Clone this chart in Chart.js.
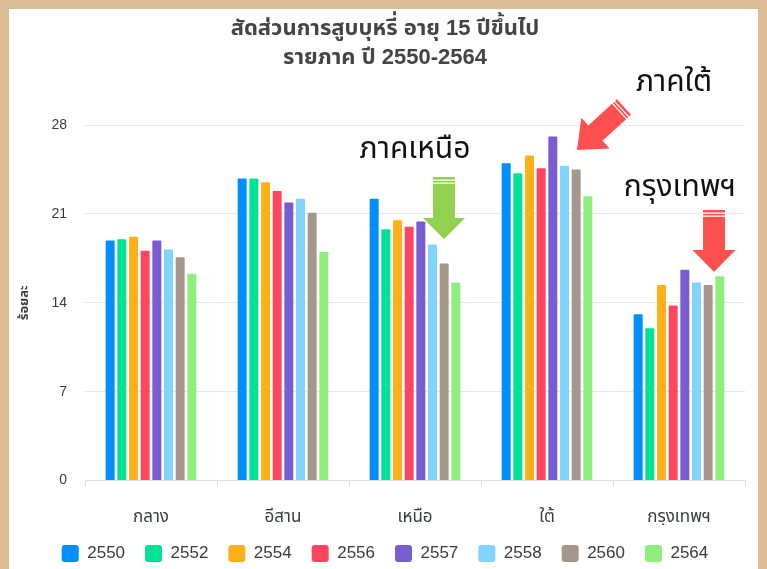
<!DOCTYPE html>
<html><head><meta charset="utf-8">
<script src="https://cdn.jsdelivr.net/npm/chart.js@4.4.1/dist/chart.umd.min.js"></script>
<style>
html,body{margin:0;padding:0;background:#dcbc95;width:767px;height:569px;overflow:hidden}
#frame{position:absolute;left:9px;top:9px;width:749px;height:560px;background:#fff}
canvas{display:block}
</style></head><body>
<div id="frame"><canvas id="c" width="749" height="560"></canvas></div>
<script>
const categories = ['กลาง','อีสาน','เหนือ','ใต้','กรุงเทพฯ'];
const years = ['2550','2552','2554','2556','2557','2558','2560','2564'];
const v2550 = [18.9, 23.8, 22.2, 25.0, 13.1];
const v2552 = [19.0, 23.8, 19.8, 24.2, 12.0];
const v2554 = [19.2, 23.5, 20.5, 25.6, 15.4];
const v2556 = [18.1, 22.8, 20.0, 24.6, 13.8];
const v2557 = [18.9, 21.9, 20.4, 27.1, 16.6];
const v2558 = [18.2, 22.2, 18.6, 24.8, 15.6];
const v2560 = [17.6, 21.1, 17.1, 24.5, 15.4];
const v2564 = [16.3, 18.0, 15.6, 22.4, 16.1];
const yTicks = [0, 7, 14, 21, 28];
const titleLines = ['สัดส่วนการสูบบุหรี่ อายุ 15 ปีขึ้นไป', 'รายภาค ปี 2550-2564'];
const yTitle = 'ร้อยละ';
const notes = [
  {text:'ภาคใต้', x:665, y:76},
  {text:'ภาคเหนือ', x:406, y:143},
  {text:'กรุงเทพฯ', x:671, y:181}
];

const series = [v2550, v2552, v2554, v2556, v2557, v2558, v2560, v2564];
const colors = ['#008FFB','#00E396','#FEB019','#FF4560','#775DD0','#80D4FF','#A5978B','#90EE7E'];
const THAI = '"Noto Sans Thai","Tahoma","Leelawadee UI","Garuda","Loma","Laksaman",sans-serif';
const THAI_NOTE = '"Angsana New","Cordia New","Norasi","Laksaman","Garuda","Noto Sans Thai",sans-serif';

function drawArrow(ctx, x1, y1, x2, y2, shaft, headW, headL, color){
  const dx = x2-x1, dy = y2-y1, len = Math.hypot(dx,dy);
  ctx.save();
  ctx.translate(x1,y1);
  ctx.rotate(Math.atan2(dy,dx));
  ctx.fillStyle = color;
  ctx.beginPath();
  ctx.moveTo(0,-shaft/2);
  ctx.lineTo(len-headL,-shaft/2);
  ctx.lineTo(len-headL,-headW/2);
  ctx.lineTo(len,0);
  ctx.lineTo(len-headL,headW/2);
  ctx.lineTo(len-headL,shaft/2);
  ctx.lineTo(0,shaft/2);
  ctx.closePath();
  ctx.fill();
  ctx.fillStyle = '#ffffff';
  ctx.fillRect(2.5,-shaft/2-1,1.3,shaft+2);
  ctx.fillRect(5.5,-shaft/2-1,1.3,shaft+2);
  ctx.restore();
}

const notePlugin = {
  id:'notes',
  afterDraw(chart){
    const ctx = chart.ctx;
    ctx.save();
    ctx.fillStyle = '#111';
    ctx.font = '30px ' + THAI_NOTE;
    ctx.textAlign = 'center';
    ctx.textBaseline = 'middle';
    notes.forEach(n => ctx.fillText(n.text, n.x, n.y));
    drawArrow(ctx, 615, 98, 568, 141, 21, 42, 25, '#FF5050');
    drawArrow(ctx, 435, 168, 435, 230, 22, 42, 21, '#92D050');
    drawArrow(ctx, 705, 201, 705, 263, 22, 43, 22, '#FF5050');
    ctx.restore();
  }
};

new Chart(document.getElementById('c'), {
  type:'bar',
  data:{
    labels:categories,
    datasets: years.map((y,i)=>({label:y, data:series[i], backgroundColor:colors[i], borderWidth:0, borderRadius:1}))
  },
  options:{
    responsive:false,
    animation:false,
    layout:{padding:{left:16,right:13,top:0,bottom:-3}},
    datasets:{bar:{categoryPercentage:0.707, barPercentage:0.77}},
    plugins:{
      title:{display:true, text:titleLines, color:'#444',
        font:{size:22, weight:'bold', family:'"Liberation Sans",Arial,'+THAI, lineHeight:1.32},
        padding:{top:5, bottom:53}},
      legend:{position:'bottom',
        labels:{boxWidth:17, boxHeight:17, useBorderRadius:true, borderRadius:3, color:'#373d3f',
          font:{size:17, family:'"Liberation Sans",Arial,sans-serif'}, padding:20}},
      tooltip:{enabled:false}
    },
    scales:{
      x:{
        afterFit(scale){ scale.height -= 26; },
        grid:{drawOnChartArea:false, color:'#e0e0e0', tickLength:6, offset:true},
        border:{color:'#e0e0e0'},
        ticks:{color:'#373d3f', font:{size:17, family:THAI}, padding:22}
      },
      y:{
        min:0, max:28,
        afterBuildTicks(scale){ scale.ticks = yTicks.map(v=>({value:v})); },
        afterFit(scale){ scale.width = 60; },
        grid:{color:'#e6e6e6', drawTicks:false},
        border:{display:false},
        ticks:{color:'#373d3f', font:{size:14, family:'"Liberation Sans",Arial,sans-serif'}, padding:18},
        title:{display:true, text:yTitle, color:'#373d3f', font:{size:13, weight:'bold', family:THAI}, padding:{top:-7,bottom:0}}
      }
    }
  },
  plugins:[notePlugin]
});
</script>
</body></html>
